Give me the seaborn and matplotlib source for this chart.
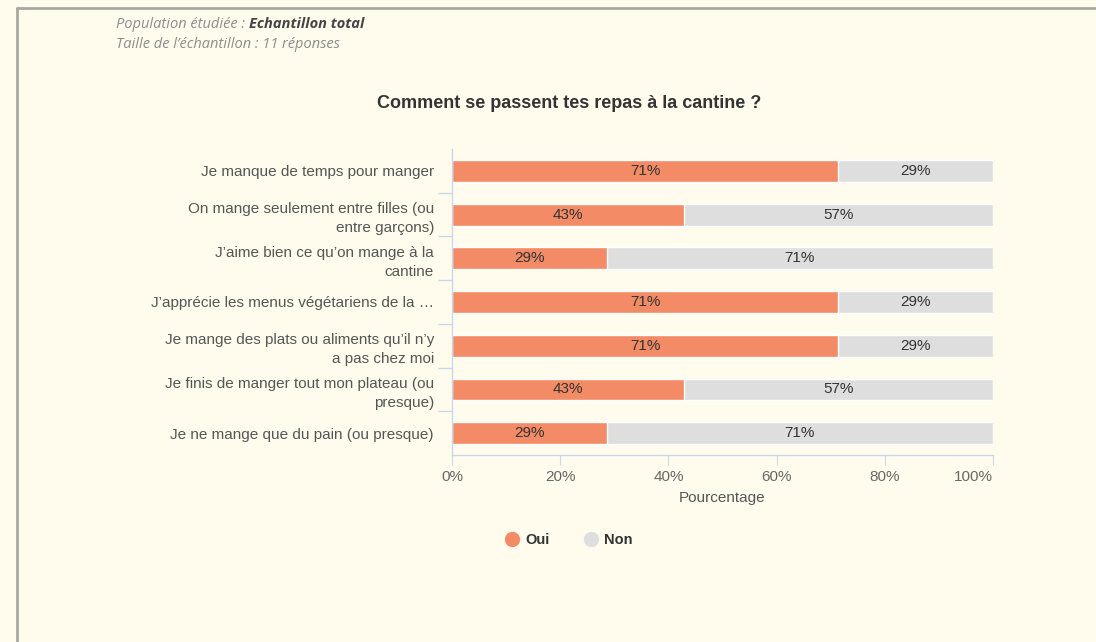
import numpy as np
import matplotlib.pyplot as plt
import pandas as pd
import seaborn as sns
from matplotlib.lines import Line2D

# données
questions = [
    "Je manque de temps pour manger",
    "On mange seulement entre filles (ou\nentre garçons)",
    "J’aime bien ce qu’on mange à la\ncantine",
    "J’apprécie les menus végétariens de la …",
    "Je mange des plats ou aliments qu’il n’y\na pas chez moi",
    "Je finis de manger tout mon plateau (ou\npresque)",
    "Je ne mange que du pain (ou presque)",
]
oui = [71.4, 42.9, 28.6, 71.4, 71.4, 42.9, 28.6]
non = [28.6, 57.1, 71.4, 28.6, 28.6, 57.1, 71.4]
xticks = [0, 20, 40, 60, 80, 100]

bg = "#FFFCEE"
orange = "#F28B66"
gris = "#DEDEDE"
axis_col = "#CCD6EB"

df = pd.DataFrame({"question": questions, "Oui": oui, "Non": non})
df["total"] = df["Oui"] + df["Non"]

sns.set_style("white")
plt.rcParams["font.family"] = ["Liberation Sans", "DejaVu Sans"]

fig = plt.figure(figsize=(10.96, 6.42), dpi=100, facecolor=bg)
ax = fig.add_axes([452 / 1096, 1 - 455 / 642, 541 / 1096, 306 / 642])
ax.set_facecolor(bg)

sns.barplot(data=df, y="question", x="total", color=gris, width=0.5,
            saturation=1, ax=ax, orient="h")
sns.barplot(data=df, y="question", x="Oui", color=orange, width=0.5,
            saturation=1, ax=ax, orient="h")

for i, (o, n) in enumerate(zip(oui, non)):
    ax.text(o / 2, i, f"{o:.0f}%", ha="center", va="center",
            fontsize=11, color="#333333")
    ax.text(o + n / 2, i, f"{n:.0f}%", ha="center", va="center",
            fontsize=11, color="#333333")

ax.set_xlim(0, 100)
ax.set_xticks(xticks)
ax.set_xticklabels([f"{t}%" for t in xticks])
ax.get_xticklabels()[-1].set_ha("right")
ax.set_xlabel("Pourcentage", fontsize=11, color="#555555", labelpad=5)
ax.set_ylabel("")

ax.tick_params(axis="x", bottom=True, length=7, color=axis_col, labelsize=11,
               labelcolor="#666666", pad=4)
ax.tick_params(axis="y", which="major", left=False, length=0, labelsize=11,
               labelcolor="#555555", pad=13)
ax.set_yticks(np.arange(len(questions) - 1) + 0.5, minor=True)
ax.tick_params(axis="y", which="minor", left=True, length=10, width=1,
               color=axis_col)
for lab in ax.get_yticklabels():
    lab.set_multialignment("right")
    lab.set_linespacing(1.45)

for s in ["top", "right"]:
    ax.spines[s].set_visible(False)
for s in ["left", "bottom"]:
    ax.spines[s].set_color(axis_col)
    ax.spines[s].set_linewidth(1)

# titre
fig.text(569 / 1096, 1 - 103 / 642, "Comment se passent tes repas à la cantine ?",
         ha="center", va="center", fontsize=13, fontweight="bold",
         color="#333333")

# sous-titre
sub_font = ["Open Sans", "DejaVu Sans"]
t1 = fig.text(116 / 1096, 1 - 24 / 642, "Population étudiée : ",
              ha="left", va="center", fontsize=10.5, style="italic",
              color="#8C8C8C", family=sub_font)
fig.canvas.draw()
bb = t1.get_window_extent()
fig.text(bb.x1 / 1096, 1 - 24 / 642, "Echantillon total", ha="left",
         va="center", fontsize=10.5, style="italic", fontweight="bold",
         color="#444444", family=sub_font)
fig.text(116 / 1096, 1 - 45 / 642, "Taille de l’échantillon : 11 réponses",
         ha="left", va="center", fontsize=10.5, style="italic",
         color="#8C8C8C", family=sub_font)

# légende
handles = [
    Line2D([], [], marker="o", linestyle="", markersize=10,
           markerfacecolor=orange, markeredgecolor=orange, label="Oui"),
    Line2D([], [], marker="o", linestyle="", markersize=10,
           markerfacecolor=gris, markeredgecolor=gris, label="Non"),
]
leg = fig.legend(handles=handles, loc="center", ncol=2, frameon=False,
                 bbox_to_anchor=(568 / 1096, 1 - 540 / 642),
                 handletextpad=0.3, columnspacing=2.2, handlelength=1.2,
                 prop={"size": 10.5, "weight": "bold"})
for t in leg.get_texts():
    t.set_color("#333333")

# cadre
fig.add_artist(Line2D([17 / 1096, 1], [1 - 8 / 642, 1 - 8 / 642],
                      transform=fig.transFigure, color="#A9A8A0", lw=2))
fig.add_artist(Line2D([17 / 1096, 17 / 1096], [1 - 8 / 642, 0],
                      transform=fig.transFigure, color="#A9A8A0", lw=2))

fig.savefig("out.png", dpi=100, facecolor=bg)
